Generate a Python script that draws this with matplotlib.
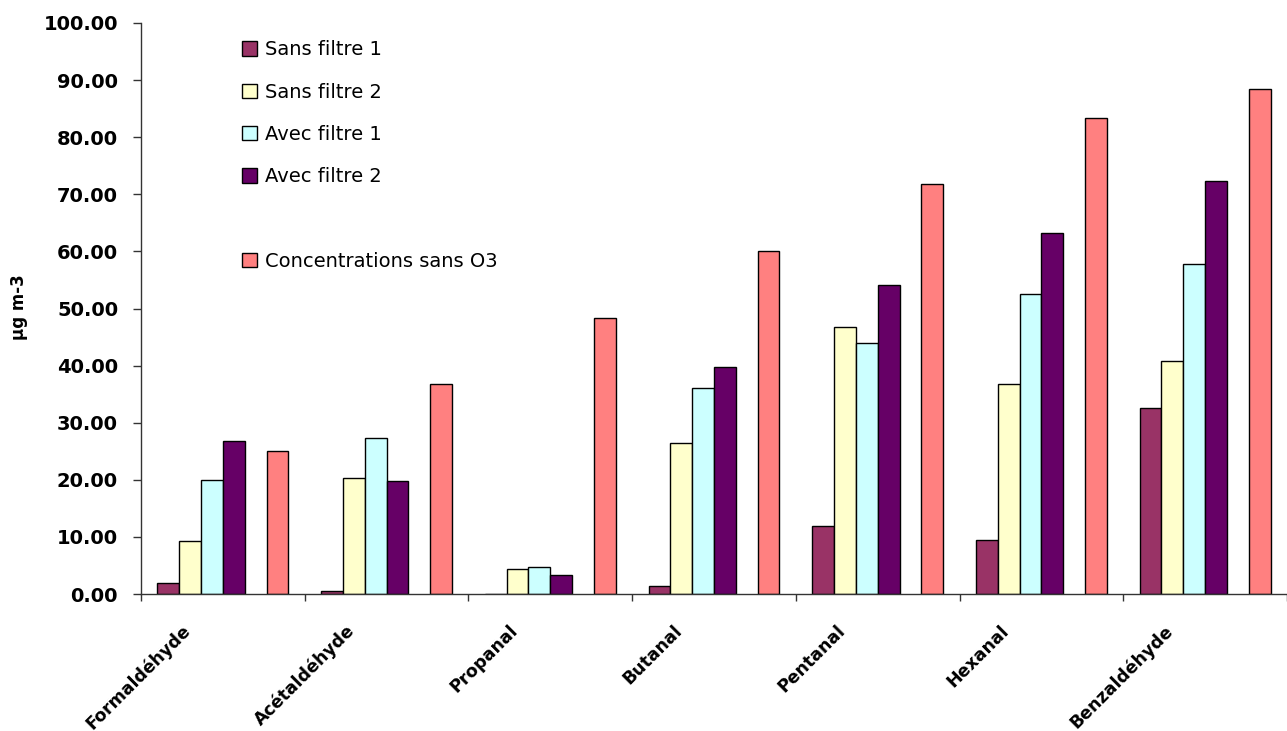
"""Aldehyde concentrations with and without filter, grouped bars."""

import numpy as np
import matplotlib
matplotlib.use("Agg")
import matplotlib.pyplot as plt
from matplotlib.patches import Rectangle
from matplotlib.transforms import ScaledTranslation

plt.rcParams["font.family"] = ["DejaVu Sans"]

categories = ["Formaldéhyde", "Acétaldéhyde", "Propanal", "Butanal",
              "Pentanal", "Hexanal", "Benzaldéhyde"]
sans_filtre_1 = [2.0, 0.6, 0.0, 1.4, 11.9, 9.4, 32.6]
sans_filtre_2 = [9.2, 20.3, 4.3, 26.4, 46.7, 36.7, 40.8]
avec_filtre_1 = [20.0, 27.4, 4.7, 36.1, 43.9, 52.5, 57.8]
avec_filtre_2 = [26.8, 19.8, 3.3, 39.8, 54.2, 63.2, 72.4]
sans_o3 = [25.0, 36.8, 48.4, 60.1, 71.8, 83.3, 88.4]

series = [
    ("Sans filtre 1", sans_filtre_1, "#993366"),
    ("Sans filtre 2", sans_filtre_2, "#FFFFCC"),
    ("Avec filtre 1", avec_filtre_1, "#CCFFFF"),
    ("Avec filtre 2", avec_filtre_2, "#660066"),
    (None, None, None),  # empty slot, as in the original sheet
    ("Concentrations sans O3", sans_o3, "#FF8080"),
]

W, H = 1287, 731
fig = plt.figure(figsize=(W / 100, H / 100), dpi=100)
ax = fig.add_axes([141 / W, 1 - 594 / H, (W - 141) / W, (594 - 23) / H])

x = np.arange(len(categories))
gap = 0.1
bw = 0.8 / len(series)
handles = []
for k, (name, vals, color) in enumerate(series):
    if vals is None:
        handles.append(Rectangle((0, 0), 1, 1, fill=False, edgecolor="none",
                                 label=" "))
        continue
    b = ax.bar(x + gap + (k + 0.5) * bw, vals, width=bw, align="center",
               color=color, edgecolor="black", linewidth=1.0, label=name)
    handles.append(b)

ax.set_xlim(0, (W - 141) / 165.3)
ax.set_ylim(0, 100)

ax.set_yticks(np.arange(0, 101, 10))
ax.set_yticklabels([f"{v:.2f}" for v in np.arange(0, 101, 10)],
                   fontsize=14, fontweight="bold")
ax.tick_params(axis="y", direction="out", length=5.5, width=1, pad=11,
               color="#333333")

# boundaries get the ticks, centres get the names
ax.set_xticks(np.arange(0, len(categories) + 1))
ax.set_xticklabels([])
ax.tick_params(axis="x", which="major", direction="out", length=5, width=1,
               color="#333333")
ax.set_xticks(x + 0.5, minor=True)
ax.set_xticklabels(categories, minor=True, rotation=45, ha="right",
                   va="center", rotation_mode="anchor",
                   fontsize=12.5, fontweight="bold")
ax.tick_params(axis="x", which="minor", length=0, pad=0)
shift = ScaledTranslation(-0.35, -0.34, fig.dpi_scale_trans)
for lbl in ax.get_xticklabels(minor=True):
    lbl.set_transform(lbl.get_transform() + shift)

ax.set_ylabel("µg m-3", fontsize=12, fontweight="bold")
ax.yaxis.set_label_coords(-0.099, 0.503)

for side in ("top", "right"):
    ax.spines[side].set_visible(False)
for side in ("left", "bottom"):
    ax.spines[side].set_color("#333333")
    ax.spines[side].set_linewidth(1)

ax.legend(handles=handles, loc="upper left",
          bbox_to_anchor=(232 / W, 1 - 30.5 / H), bbox_transform=fig.transFigure,
          frameon=False, fontsize=14, handlelength=0.77, handleheight=0.77,
          handletextpad=0.41, labelspacing=1.2, borderpad=0)

fig.savefig("out.png", dpi=100)
